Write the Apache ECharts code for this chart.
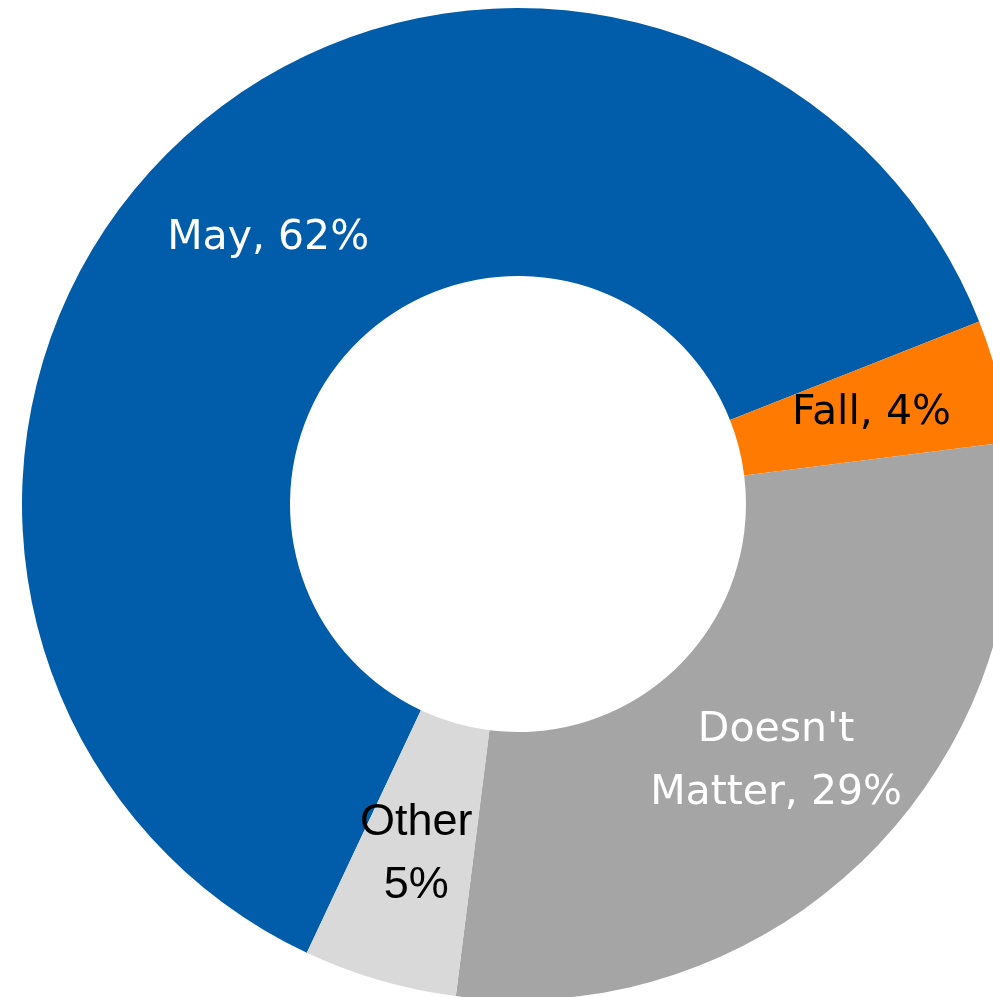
<!DOCTYPE html>
<html>
<head>
<meta charset="utf-8">
<script src="https://cdn.jsdelivr.net/npm/echarts@6/dist/echarts.min.js"></script>
<style>
html,body{margin:0;padding:0;background:#fff;}
#chart{width:993px;height:997px;}
</style>
</head>
<body>
<div id="chart"></div>
<script>
const categories = ["May", "Fall", "Doesn't Matter", "Other"];
const values = [62, 4, 29, 5];
const labelNames = ["May", "Fall", "Doesn't\nMatter", "Other"];
const labelSeparators = [", ", ", ", ", ", "\n"];
const colors = ["#015DA9", "#FF7A00", "#A5A5A5", "#D9D9D9"];
const labelColors = ["#ffffff", "#000000", "#ffffff", "#000000"];
const labelFonts = ["DejaVu Sans", "DejaVu Sans", "DejaVu Sans", "Liberation Sans"];
const labelSizes = [41, 41, 41, 45];

const chart = echarts.init(document.getElementById('chart'), null, {renderer: 'canvas'});
const data = categories.map((c, i) => ({
  name: c,
  value: values[i],
  itemStyle: {color: colors[i]},
  label: {color: labelColors[i], fontFamily: labelFonts[i], fontSize: labelSizes[i]}
}));
chart.setOption({
  animation: false,
  backgroundColor: '#ffffff',
  series: [{
    type: 'pie',
    center: [518, 504],
    radius: [228, 496],
    startAngle: 244.8,
    clockwise: true,
    avoidLabelOverlap: false,
    silent: true,
    itemStyle: {borderWidth: 0},
    label: {
      show: true,
      position: 'inside',
      lineHeight: 63,
      align: 'center',
      formatter: function (p) {
        return labelNames[p.dataIndex] + labelSeparators[p.dataIndex] + values[p.dataIndex] + '%';
      }
    },
    labelLine: {show: false},
    data: data
  }]
});
</script>
</body>
</html>
